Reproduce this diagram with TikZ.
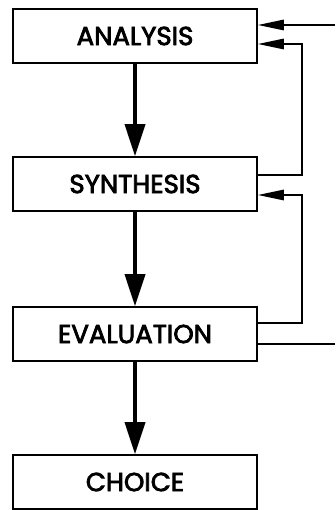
\documentclass[tikz,border=0pt]{standalone}
\usepackage{fontspec}
\setmainfont{Poppins}
\newfontfamily\stagefont{Poppins}[FakeBold=3]
\usepackage{tikz}
\usetikzlibrary{arrows.meta, calc}

\begin{document}
\begin{tikzpicture}[
  x=0.025cm, y=-0.025cm,
  stage/.style={draw, line width=1.2pt, minimum width=6.1cm, minimum height=1.35cm, inner sep=0pt, font=\fontsize{18.5}{20}\stagefont},
  flow/.style={-{Triangle[length=0.8cm, width=0.5cm]}, line width=2.6pt},
  loop/.style={-{Triangle[length=0.65cm, width=0.26cm]}, line width=1.3pt}
]
\useasboundingbox (0,0) rectangle (335,510);

\node[stage] (ana) at (135, 36) {ANALYSIS};
\node[stage] (syn) at (135, 184) {SYNTHESIS};
\node[stage] (eva) at (135, 334) {EVALUATION};
\node[stage] (cho) at (135, 482) {CHOICE};

\draw[flow] (ana) -- (syn);
\draw[flow] (syn) -- (eva);
\draw[flow] (eva) -- (cho);

% feedback
\coordinate (input) at (335, 25);
\coordinate (output) at (335, 344);
\draw[loop] (input) -- (input -| ana.east);
\draw[loop] ($(syn.east)+(0,-9)$) -- ++(44,0) |- ($(ana.east)+(0,8)$);
\draw[loop] ($(eva.east)+(0,-11)$) -- ++(44,0) |- ($(syn.east)+(0,11)$);
\draw[line width=1.3pt] ($(eva.east)+(0,10)$) -- (output);
\end{tikzpicture}
\end{document}
